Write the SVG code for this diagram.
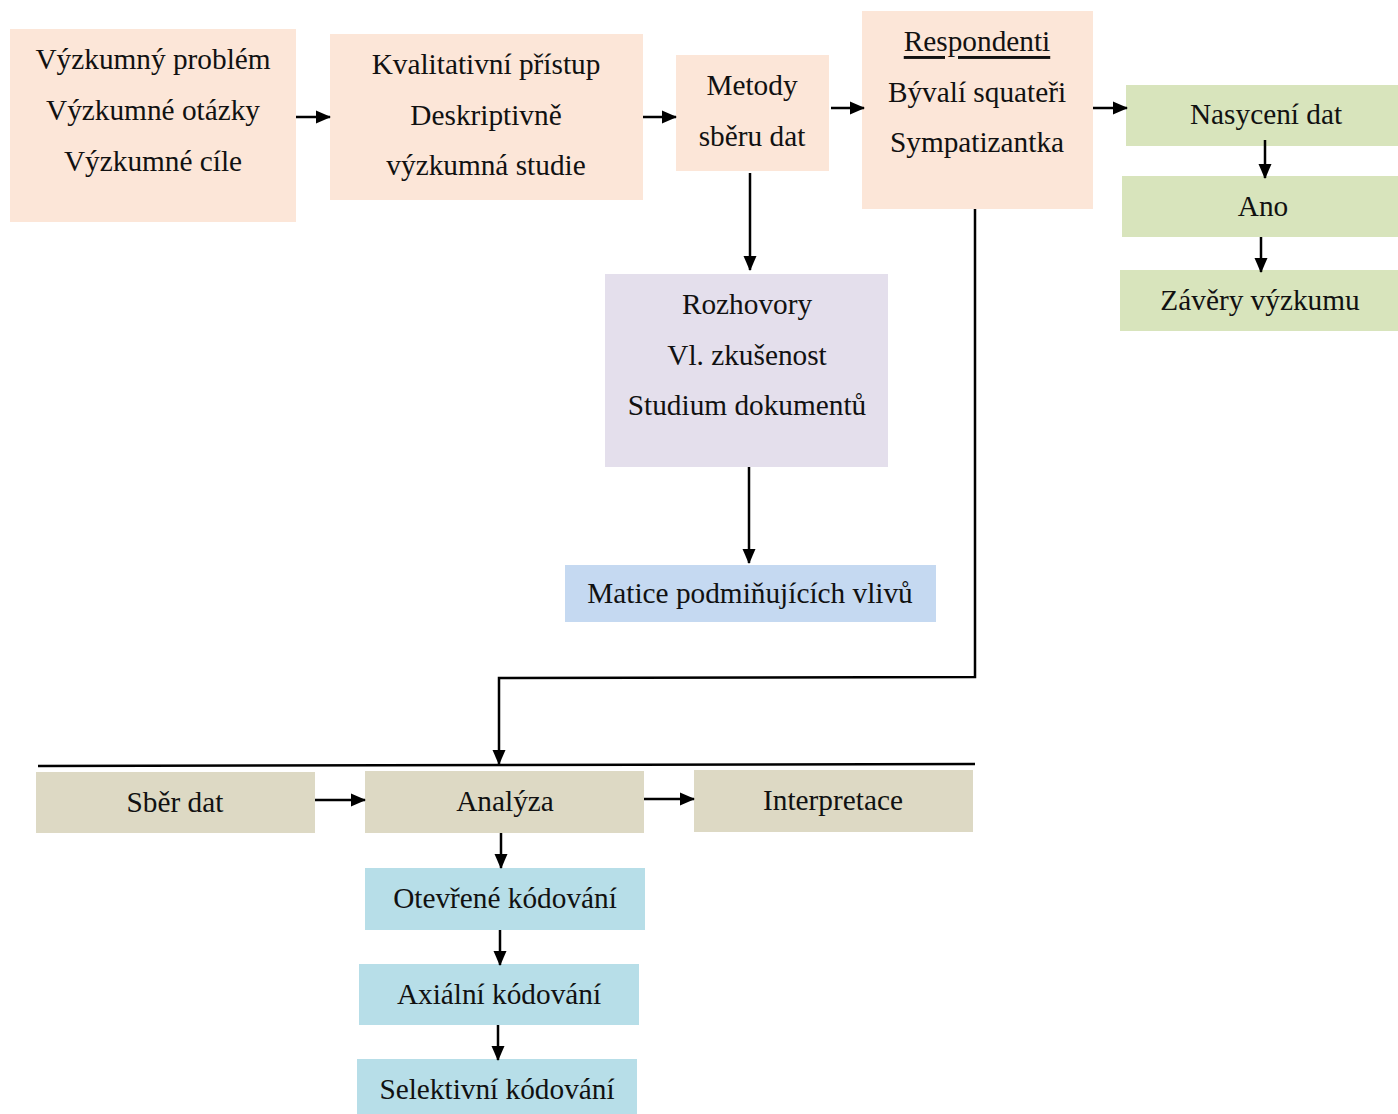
<svg xmlns="http://www.w3.org/2000/svg" width="1398" height="1114" viewBox="0 0 1398 1114">
<style>
text{font-family:"Liberation Serif","Times New Roman",serif;font-size:29.3px;fill:#111;text-anchor:middle;dominant-baseline:central}
.peach{fill:#FCE6D8}.green{fill:#D8E4BC}.lav{fill:#E4DFEC}.blue{fill:#C5D9F1}.beige{fill:#DDD9C4}.cyan{fill:#B7DEE8}
.c{fill:none;stroke:#000;stroke-width:2.5}
</style>
<defs>
<marker id="ah" markerUnits="userSpaceOnUse" markerWidth="16" markerHeight="16" viewBox="0 0 16 16" refX="14" refY="8" orient="auto">
<path d="M0,1.5 L15,8 L0,14.5 Z" fill="#000"/>
</marker>
</defs>
<rect width="1398" height="1114" fill="#fff"/>
<g id="n1"><rect class="peach" x="10" y="29" width="286" height="193"/><text x="153" y="59">Výzkumný problém</text><text x="153" y="110">Výzkumné otázky</text><text x="153" y="161">Výzkumné cíle</text></g>
<g id="n2"><rect class="peach" x="330" y="34" width="313" height="166"/><text x="486" y="64">Kvalitativní přístup</text><text x="486" y="115">Deskriptivně</text><text x="486" y="165">výzkumná studie</text></g>
<g id="n3"><rect class="peach" x="676" y="55" width="153" height="116"/><text x="752" y="85">Metody</text><text x="752" y="136">sběru dat</text></g>
<g id="n4"><rect class="peach" x="862" y="11" width="231" height="198"/><text x="977" y="41" text-decoration="underline">Respondenti</text><text x="977" y="92">Bývalí squateři</text><text x="977" y="142">Sympatizantka</text></g>
<g id="n5"><rect class="green" x="1126" y="85" width="272" height="61"/><text x="1266" y="114">Nasycení dat</text></g>
<g id="n6"><rect class="green" x="1122" y="176" width="276" height="61"/><text x="1263" y="206">Ano</text></g>
<g id="n7"><rect class="green" x="1120" y="270" width="278" height="61"/><text x="1260" y="300">Závěry výzkumu</text></g>
<g id="n8"><rect class="lav" x="605" y="274" width="283" height="193"/><text x="747" y="304">Rozhovory</text><text x="747" y="355">Vl. zkušenost</text><text x="747" y="405">Studium dokumentů</text></g>
<g id="n9"><rect class="blue" x="565" y="565" width="371" height="57"/><text x="750" y="593">Matice podmiňujících vlivů</text></g>
<g id="n10"><rect class="beige" x="36" y="772" width="279" height="61"/><text x="175" y="802">Sběr dat</text></g>
<g id="n11"><rect class="beige" x="365" y="771" width="279" height="62"/><text x="505" y="801">Analýza</text></g>
<g id="n12"><rect class="beige" x="694" y="770" width="279" height="62"/><text x="833" y="800">Interpretace</text></g>
<g id="n13"><rect class="cyan" x="365" y="868" width="280" height="62"/><text x="505" y="898">Otevřené kódování</text></g>
<g id="n14"><rect class="cyan" x="359" y="964" width="280" height="61"/><text x="499" y="994">Axiální kódování</text></g>
<g id="n15"><rect class="cyan" x="357" y="1059" width="280" height="55"/><text x="497" y="1089">Selektivní kódování</text></g>
<g id="connectors">
<line class="c" x1="38" y1="766" x2="975" y2="764"/>
<line class="c" x1="296" y1="117" x2="330" y2="117" marker-end="url(#ah)"/>
<line class="c" x1="643" y1="117" x2="676" y2="117" marker-end="url(#ah)"/>
<line class="c" x1="831" y1="108" x2="864" y2="108" marker-end="url(#ah)"/>
<line class="c" x1="1093" y1="108" x2="1127" y2="108" marker-end="url(#ah)"/>
<line class="c" x1="1265" y1="140" x2="1265" y2="178" marker-end="url(#ah)"/>
<line class="c" x1="1261" y1="237" x2="1261" y2="272" marker-end="url(#ah)"/>
<line class="c" x1="750" y1="173" x2="750" y2="270" marker-end="url(#ah)"/>
<line class="c" x1="749" y1="467" x2="749" y2="563" marker-end="url(#ah)"/>
<polyline class="c" points="975,209 975,677 499,678 499,764" marker-end="url(#ah)"/>
<line class="c" x1="315" y1="800" x2="365" y2="800" marker-end="url(#ah)"/>
<line class="c" x1="644" y1="799" x2="694" y2="799" marker-end="url(#ah)"/>
<line class="c" x1="501" y1="833" x2="501" y2="868" marker-end="url(#ah)"/>
<line class="c" x1="500" y1="930" x2="500" y2="965" marker-end="url(#ah)"/>
<line class="c" x1="498" y1="1025" x2="498" y2="1060" marker-end="url(#ah)"/>
</g>
</svg>
